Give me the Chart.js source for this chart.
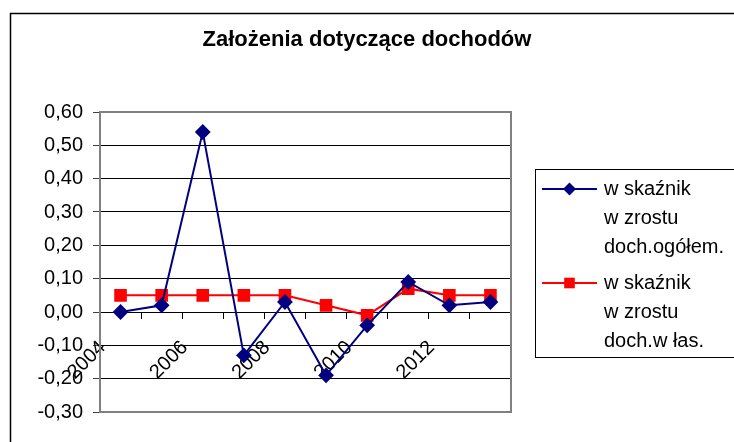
<!DOCTYPE html>
<html>
<head>
<meta charset="utf-8">
<script src="https://cdn.jsdelivr.net/npm/chart.js@4/dist/chart.umd.min.js"></script>
<style>
  html, body { margin: 0; padding: 0; background: #fff; }
  #wrap { width: 734px; height: 442px; }
</style>
</head>
<body>
<div id="wrap"><canvas id="myChart" width="734" height="442"></canvas></div>
<script>
const years = ['2004', '2005', '2006', '2007', '2008', '2009', '2010', '2011', '2012', '2013'];
const wskaznikOgolem = [0.00, 0.02, 0.54, -0.13, 0.03, -0.19, -0.04, 0.09, 0.02, 0.03];
const wskaznikWlasne = [0.05, 0.05, 0.05, 0.05, 0.05, 0.02, -0.01, 0.07, 0.05, 0.05];
const seriesNames = [
  ['w skaźnik', 'w zrostu', 'doch.ogółem.'],
  ['w skaźnik', 'w zrostu', 'doch.w łas.']
];
const titleText = 'Założenia dotyczące dochodów';

const FONT = '"Liberation Sans", Arial, sans-serif';

const fmt = (v) => {
  const s = Number(v).toFixed(2);
  return (s === '-0.00' ? '0.00' : s).replace('.', ',');
};

// frame, title, plot border and legend
const decorations = {
  id: 'decorations',
  beforeDraw(chart) {
    const ctx = chart.ctx;
    ctx.save();
    ctx.fillStyle = '#fff';
    ctx.fillRect(0, 0, chart.width, chart.height);
    ctx.strokeStyle = '#000';
    ctx.lineWidth = 1.5;
    ctx.beginPath();
    ctx.moveTo(10.5, 450);
    ctx.lineTo(10.5, 13.5);
    ctx.lineTo(740, 13.5);
    ctx.stroke();

    ctx.fillStyle = '#000';
    ctx.font = 'bold 22px ' + FONT;
    ctx.textAlign = 'center';
    ctx.textBaseline = 'middle';
    ctx.fillText(titleText, 367, 40);
    ctx.restore();
  },
  beforeDatasetsDraw(chart) {
    const { ctx, chartArea: a } = chart;
    ctx.save();
    ctx.strokeStyle = '#808080';
    ctx.lineWidth = 2;
    ctx.strokeRect(a.left, a.top, a.right - a.left, a.bottom - a.top);
    ctx.restore();
  },
  afterDraw(chart) {
    const ctx = chart.ctx;
    ctx.save();
    ctx.strokeStyle = '#000';
    ctx.lineWidth = 1;
    ctx.strokeRect(535.5, 169.5, 220, 188);
    ctx.font = '20px ' + FONT;
    ctx.textAlign = 'left';
    ctx.textBaseline = 'middle';
    const starts = [189, 283];
    chart.data.datasets.forEach((ds, i) => {
      const y = starts[i];
      ctx.strokeStyle = ds.borderColor;
      ctx.lineWidth = 2;
      ctx.beginPath();
      ctx.moveTo(542, y);
      ctx.lineTo(597, y);
      ctx.stroke();
      ctx.fillStyle = ds.pointBackgroundColor;
      ctx.beginPath();
      if (ds.pointStyle === 'rectRot') {
        const r = ds.pointRadius;
        ctx.moveTo(569.5 - r, y);
        ctx.lineTo(569.5, y - r);
        ctx.lineTo(569.5 + r, y);
        ctx.lineTo(569.5, y + r);
        ctx.closePath();
      } else {
        const h = ds.pointRadius * Math.SQRT1_2;
        ctx.rect(569.5 - h, y - h, 2 * h, 2 * h);
      }
      ctx.fill();
      ctx.fillStyle = '#000';
      seriesNames[i].forEach((line, k) => {
        ctx.fillText(line, 604, y + k * 29);
      });
    });
    ctx.restore();
  }
};

new Chart(document.getElementById('myChart').getContext('2d'), {
  type: 'line',
  data: {
    labels: years,
    datasets: [
      {
        label: seriesNames[0].join(' '),
        data: wskaznikOgolem,
        borderColor: '#000080',
        backgroundColor: '#000080',
        pointBackgroundColor: '#000080',
        pointBorderColor: '#000080',
        pointStyle: 'rectRot',
        pointRadius: 6.5,
        borderWidth: 2,
        tension: 0
      },
      {
        label: seriesNames[1].join(' '),
        data: wskaznikWlasne,
        borderColor: '#ff0000',
        backgroundColor: '#ff0000',
        pointBackgroundColor: '#ff0000',
        pointBorderColor: '#ff0000',
        pointStyle: 'rect',
        pointRadius: 7.5,
        borderWidth: 2,
        tension: 0
      }
    ]
  },
  options: {
    responsive: false,
    animation: false,
    layout: { padding: { top: 112, left: 0, right: 223, bottom: 30 } },
    plugins: {
      legend: { display: false },
      title: { display: false },
      tooltip: { enabled: false }
    },
    scales: {
      y: {
        min: -0.3,
        max: 0.6,
        afterFit: (axis) => { axis.width = 100; },
        ticks: {
          stepSize: 0.1,
          color: '#000',
          padding: 10,
          font: { family: FONT, size: 20 },
          callback: (v) => fmt(v)
        },
        grid: {
          color: '#000',
          lineWidth: 1,
          tickLength: 7,
          tickColor: '#404040'
        },
        border: { color: '#808080', width: 2 }
      },
      x: {
        position: { y: 0 },
        offset: true,
        ticks: {
          autoSkip: false,
          maxRotation: 45,
          minRotation: 45,
          color: '#000',
          padding: 18,
          labelOffset: -18,
          font: { family: FONT, size: 20 },
          callback: function (v, i) { return i % 2 === 0 ? this.getLabelForValue(v) : ''; }
        },
        grid: {
          offset: true,
          drawOnChartArea: false,
          tickLength: 6,
          color: '#000'
        },
        border: { color: '#000', width: 1 }
      }
    }
  },
  plugins: [decorations]
});
</script>
</body>
</html>
